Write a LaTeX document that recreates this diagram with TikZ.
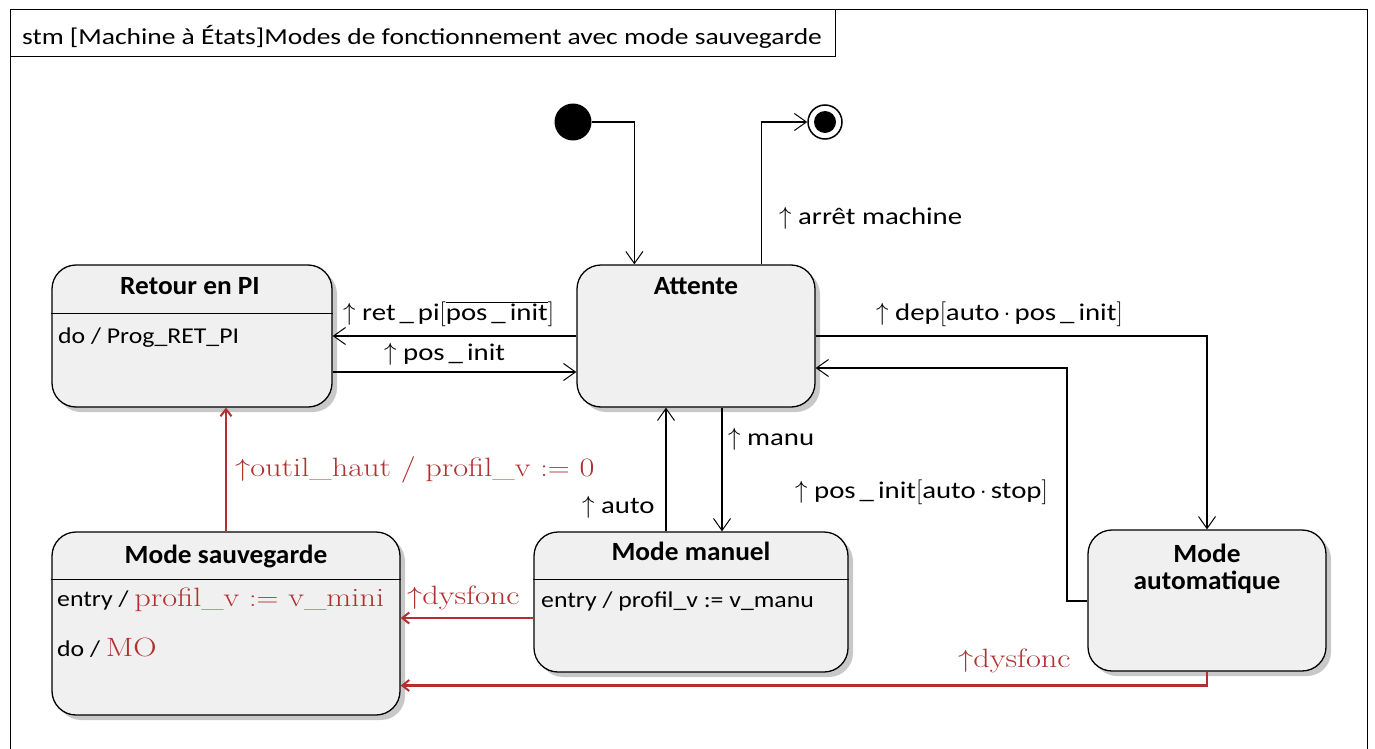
\documentclass[tikz,border=0pt]{standalone}
\usepackage{fontspec}
\usetikzlibrary{arrows.meta,shadows,calc}
\newfontfamily\lab[FakeStretch=1.2]{Carlito}
\newfontfamily\ttlf[FakeStretch=1.04]{Carlito}
\newfontfamily\actf[FakeStretch=1.14]{Carlito}
\definecolor{rd}{RGB}{178,48,48}
\definecolor{boxfill}{RGB}{240,240,240}
\definecolor{shadowc}{RGB}{200,200,200}
\newcommand\up{$\uparrow$}
\newcommand\rtx[1]{{\fontsize{26.5}{30}\selectfont\rmfamily\color{rd}\scalebox{1.22}[1]{#1}}}
\tikzset{
  state/.style={draw, line width=1.3pt, fill=boxfill, rounded corners=24pt, inner sep=0pt,
    drop shadow={shadow xshift=5pt, shadow yshift=-5pt, fill=shadowc, opacity=1}},
  ttl/.style={anchor=base, inner sep=0pt, font=\fontsize{26.3}{30}\ttlf\bfseries},
  act/.style={anchor=base west, inner sep=0pt, font=\fontsize{22.6}{26}\actf},
  lbl/.style={anchor=base west, inner sep=0pt, font=\fontsize{24}{28}\lab},
  rlbl/.style={anchor=base west, inner sep=0pt},
  conn/.style={line width=1.2pt, -{Straight Barb[length=12pt,width=17pt,line width=1pt]}},
  thickconn/.style={conn, line width=2pt},
  redconn/.style={line width=2.5pt, draw=rd, -{Straight Barb[length=7pt,width=11pt,line width=2pt]}},
  sep/.style={line width=1.2pt}
}
\begin{document}
\begin{tikzpicture}[x=1pt,y=-1pt]
\useasboundingbox (0,0) rectangle (1375,749);
% frame
\draw[line width=1pt] (10,749) -- (10,10) -- (1367,10) -- (1367,749);
\draw[line width=1pt] (10,10) rectangle (835,57);
\node[anchor=base west, inner sep=0pt, font=\fontsize{22.9}{26}\lab] (frametitle) at (22,45)
  {stm [Machine à États]Modes de fonctionnement avec mode sauvegarde};

% pseudo states
\node[circle, fill=black, minimum size=37pt, inner sep=0pt] (ini) at (573,122) {};
\node[circle, draw, line width=1.5pt, minimum size=34pt, inner sep=0pt] (fin) at (825,122) {};
\fill (fin.center) circle (11pt);

% states
\node[state, minimum width=238pt, minimum height=142pt] (att) at (696,336) {};
\node[state, minimum width=280pt, minimum height=142pt] (ret) at (192,336) {};
\node[state, minimum width=348pt, minimum height=183pt] (sauv) at (226,623.5) {};
\node[state, minimum width=314pt, minimum height=140pt] (man) at (691,602) {};
\node[state, minimum width=238pt, minimum height=141pt] (aut) at (1207,600.5) {};

% separators
\draw[sep] ([yshift=-49pt]ret.north west) -- ([yshift=-49pt]ret.north east);
\draw[sep] ([yshift=-48pt]sauv.north west) -- ([yshift=-48pt]sauv.north east);
\draw[sep] ([yshift=-48pt]man.north west) -- ([yshift=-48pt]man.north east);

% state texts
\node[ttl] (att-t) at (696,294) {Attente};
\node[ttl] (ret-t) at (190,294) {Retour en PI};
\node[act] (ret-a) at (58,343) {do / Prog\_RET\_PI};
\node[ttl] (sauv-t) at (226,563) {Mode sauvegarde};
\node[act] (sauv-a) at (57,606) {entry / \rtx{profil\_v $:=$ v\_mini}};
\node[act] (sauv-b) at (57,656) {do / \rtx{MO}};
\node[ttl] (man-t) at (691,560) {Mode manuel};
\node[act] (man-a) at (541,607) {entry / profil\_v := v\_manu};
\node[ttl] (aut-t1) at (1207,562) {Mode};
\node[ttl] (aut-t2) at (1207,589) {automatique};

% helper points on Attente's bottom edge
\coordinate (mA) at ($(att.south)+(26,0)$);
\coordinate (aA) at ($(att.south)+(-30,0)$);

% transitions
\draw[conn] (ini.east) -| ($(att.north west)+(58,0)$);
\draw[conn] ($(att.north west)+(185,0)$) |- (fin.west);
\node[lbl] (l-stop) at (779,224) {\up\ arrêt machine};

\draw[conn] (att.west) -- (ret.east);
\node[lbl] (l-retpi) at (343,320) {\up\ ret\,\_\,pi$\bigl[\overline{\hbox{pos\,\_\,init}}\bigr]$};

\draw[conn] ([yshift=-36pt]ret.east) -- ([yshift=-36pt]att.west);
\node[lbl] (l-posinit) at (384,360) {\up\ pos\,\_\,init};

\draw[conn] (att.east) -| (aut.north);
\node[lbl] (l-dep) at (876,320) {\up\ dep$\bigl[$auto$\,\cdot\,$pos\,\_\,init$\bigr]$};

\draw[thickconn] (aut.west) -- ++(-20,0) |- ([yshift=-32pt]att.east);
\node[lbl] (l-stop2) at (795,498) {\up\ pos\,\_\,init$\bigl[$auto$\,\cdot\,$stop$\bigr]$};

\draw[thickconn] (mA) -- (mA |- man.north);
\node[lbl] (l-manu) at (728,445) {\up\ manu};

\draw[conn] (aA |- man.north) -- (aA);
\node[lbl] (l-auto) at (582,513) {\up\ auto};

\draw[redconn] (sauv.north) -- (sauv.north |- ret.south);
\node[rlbl] (l-outil) at (235,476) {\rtx{\up outil\_haut / profil\_v $:=$ 0}};

\draw[redconn] ([yshift=-16pt]man.west) -- ([yshift=-16pt]man.west -| sauv.east);
\node[rlbl] (l-dys1) at (407,604) {\rtx{\up dysfonc}};

\draw[redconn] (aut.south) |- ([yshift=-62pt]sauv.east);
\node[rlbl] (l-dys2) at (958,667) {\rtx{\up dysfonc}};
\end{tikzpicture}
\end{document}
